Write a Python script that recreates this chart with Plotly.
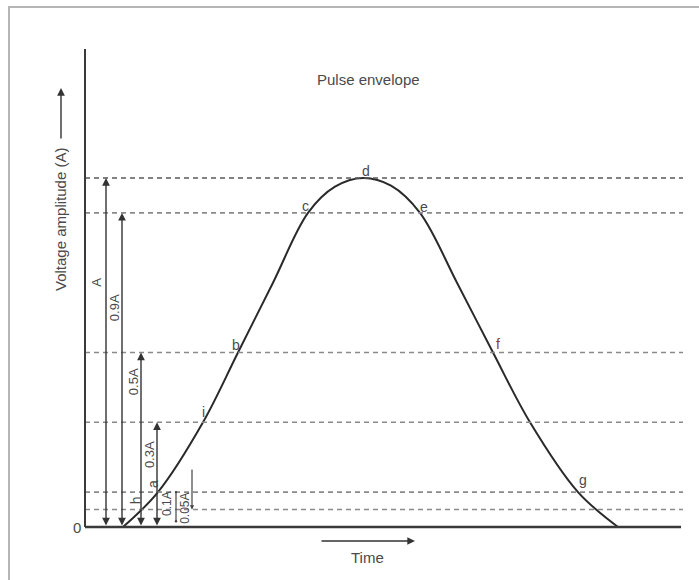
import plotly.graph_objects as go

# ---- data ----
levels = [1.0, 0.9, 0.5, 0.3, 0.1, 0.05]
level_labels = ["A", "0.9A", "0.5A", "0.3A", "0.1A", "0.05A"]

curve_time = [38, 73, 118, 153, 188, 223, 250, 278, 306, 335, 372, 408, 445, 493, 533]
curve_amp = [0.0, 0.1, 0.3, 0.5, 0.7, 0.9, 0.975, 1.0, 0.978, 0.9, 0.7, 0.5, 0.3, 0.1, 0.0]

point_labels = ["h", "a", "i", "b", "c", "d", "e", "f", "g"]

title_text = "Pulse envelope"
y_title = "Voltage amplitude (A)"
x_title = "Time"

FONT = "Liberation Sans, Arial, sans-serif"
TXT = "#4a4a4a"
W, H = 699, 580
X0PX, Y0PX, APX = 85, 527, 349  # origin pixel and pixels per unit A

x_range = [-X0PX, W - X0PX]
y_range = [(Y0PX - H) / APX, Y0PX / APX]

fig = go.Figure()

# pulse envelope curve
fig.add_trace(go.Scatter(x=curve_time, y=curve_amp, mode="lines",
                         line=dict(color="#2a2a2a", width=2, shape="spline", smoothing=1.0),
                         hoverinfo="skip", showlegend=False))

shapes = []
# outer frame
shapes.append(dict(type="rect", xref="paper", yref="paper", x0=9 / W, x1=1.05,
                   y0=-0.05, y1=1 - 7 / H, line=dict(color="#b5b5b5", width=2)))
# dashed reference levels
for i, lv in enumerate(levels):
    shapes.append(dict(type="line", xref="x", yref="y", x0=0, x1=598, y0=lv, y1=lv,
                       line=dict(color="#5a5a5a" if i == 0 else "#8a8a8a", width=1.6,
                                 dash="5px,4px")))
# axes
shapes.append(dict(type="line", xref="x", yref="y", x0=0, x1=0, y0=0, y1=(Y0PX - 49) / APX,
                   line=dict(color="#3a3a3a", width=2)))
shapes.append(dict(type="line", xref="x", yref="y", x0=0, x1=596, y0=0, y1=0,
                   line=dict(color="#3a3a3a", width=2.5)))

ann = []
# double headed amplitude arrows with rotated labels
arrow_t = [21, 37, 56, 72]
label_t = [12, 29, 48, 64]
label_a = [0.70, 0.627, 0.415, 0.206]
for k in range(4):
    ann.append(dict(x=arrow_t[k], y=levels[k], ax=arrow_t[k], ay=0, xref="x", yref="y",
                    axref="x", ayref="y", text="", showarrow=True, arrowhead=2,
                    startarrowhead=2, arrowside="end+start", arrowsize=1.1,
                    startarrowsize=1.1, arrowwidth=1.4, arrowcolor="#333333",
                    standoff=0, startstandoff=0))
    ann.append(dict(x=label_t[k], y=label_a[k], xref="x", yref="y", text=level_labels[k],
                    showarrow=False, textangle=-90,
                    font=dict(family=FONT, size=13, color=TXT)))

# small 0.1A and 0.05A markers
ann.append(dict(x=91, y=levels[4], ax=91, ay=0.012, xref="x", yref="y", axref="x", ayref="y",
                text="", showarrow=True, arrowhead=6, startarrowhead=6, arrowside="end+start",
                arrowsize=0.5, startarrowsize=0.5, arrowwidth=1.2, arrowcolor="#444444",
                standoff=0, startstandoff=0))
ann.append(dict(x=107, y=levels[5], ax=107, ay=0.169, xref="x", yref="y", axref="x", ayref="y",
                text="", showarrow=True, arrowhead=2, arrowsize=0.7, arrowwidth=1.2,
                arrowcolor="#444444", standoff=0))
ann.append(dict(x=82, y=0.066, xref="x", yref="y", text=level_labels[4], showarrow=False,
                textangle=-90, font=dict(family=FONT, size=12, color=TXT)))
ann.append(dict(x=100, y=0.052, xref="x", yref="y", text=level_labels[5], showarrow=False,
                textangle=-90, font=dict(family=FONT, size=12, color=TXT)))

# point letters
pl_t = [51, 68, 118, 151, 220, 281, 339, 413, 498]
pl_a = [0.077, 0.123, 0.33, 0.521, 0.92, 1.02, 0.917, 0.524, 0.135]
pl_rot = [-90, -90, 0, 0, 0, 0, 0, 0, 0]
pl_col = [TXT] * 7 + ["#8a3a3a", TXT]
for k, lab in enumerate(point_labels):
    ann.append(dict(x=pl_t[k], y=pl_a[k], xref="x", yref="y", text=lab, showarrow=False,
                    textangle=pl_rot[k], font=dict(family=FONT, size=14, color=pl_col[k])))

# zero label
ann.append(dict(x=-8, y=-0.002, xref="x", yref="y", text="0", showarrow=False,
                font=dict(family=FONT, size=15, color=TXT)))
# title
ann.append(dict(x=283, y=(Y0PX - 79) / APX, xref="x", yref="y", text=title_text,
                showarrow=False, font=dict(family=FONT, size=15, color=TXT)))
# y axis title with arrow
ann.append(dict(x=-25, y=(Y0PX - 220) / APX, xref="x", yref="y", text=y_title,
                showarrow=False, textangle=-90, font=dict(family=FONT, size=15, color=TXT)))
ann.append(dict(x=-24, y=(Y0PX - 88) / APX, ax=-24, ay=(Y0PX - 140) / APX, xref="x", yref="y",
                axref="x", ayref="y", text="", showarrow=True, arrowhead=2, arrowsize=1.1,
                arrowwidth=1.4, arrowcolor="#333333", standoff=0))
# time label with arrow
ann.append(dict(x=330, y=(Y0PX - 541) / APX, ax=235, ay=(Y0PX - 541) / APX, xref="x", yref="y",
                axref="x", ayref="y", text="", showarrow=True, arrowhead=2, arrowsize=1.1,
                arrowwidth=1.4, arrowcolor="#333333", standoff=0))
ann.append(dict(x=282, y=(Y0PX - 557) / APX, xref="x", yref="y", text=x_title, showarrow=False,
                font=dict(family=FONT, size=15, color=TXT)))

fig.update_layout(
    width=W, height=H, margin=dict(l=0, r=0, t=0, b=0),
    paper_bgcolor="white", plot_bgcolor="white",
    xaxis=dict(range=x_range, visible=False, fixedrange=True),
    yaxis=dict(range=y_range, visible=False, fixedrange=True),
    shapes=shapes, annotations=ann, showlegend=False,
)

fig.write_html("out.html", config={"displayModeBar": False},
               post_script="document.body.style.margin='0';document.body.style.overflow='hidden';")
